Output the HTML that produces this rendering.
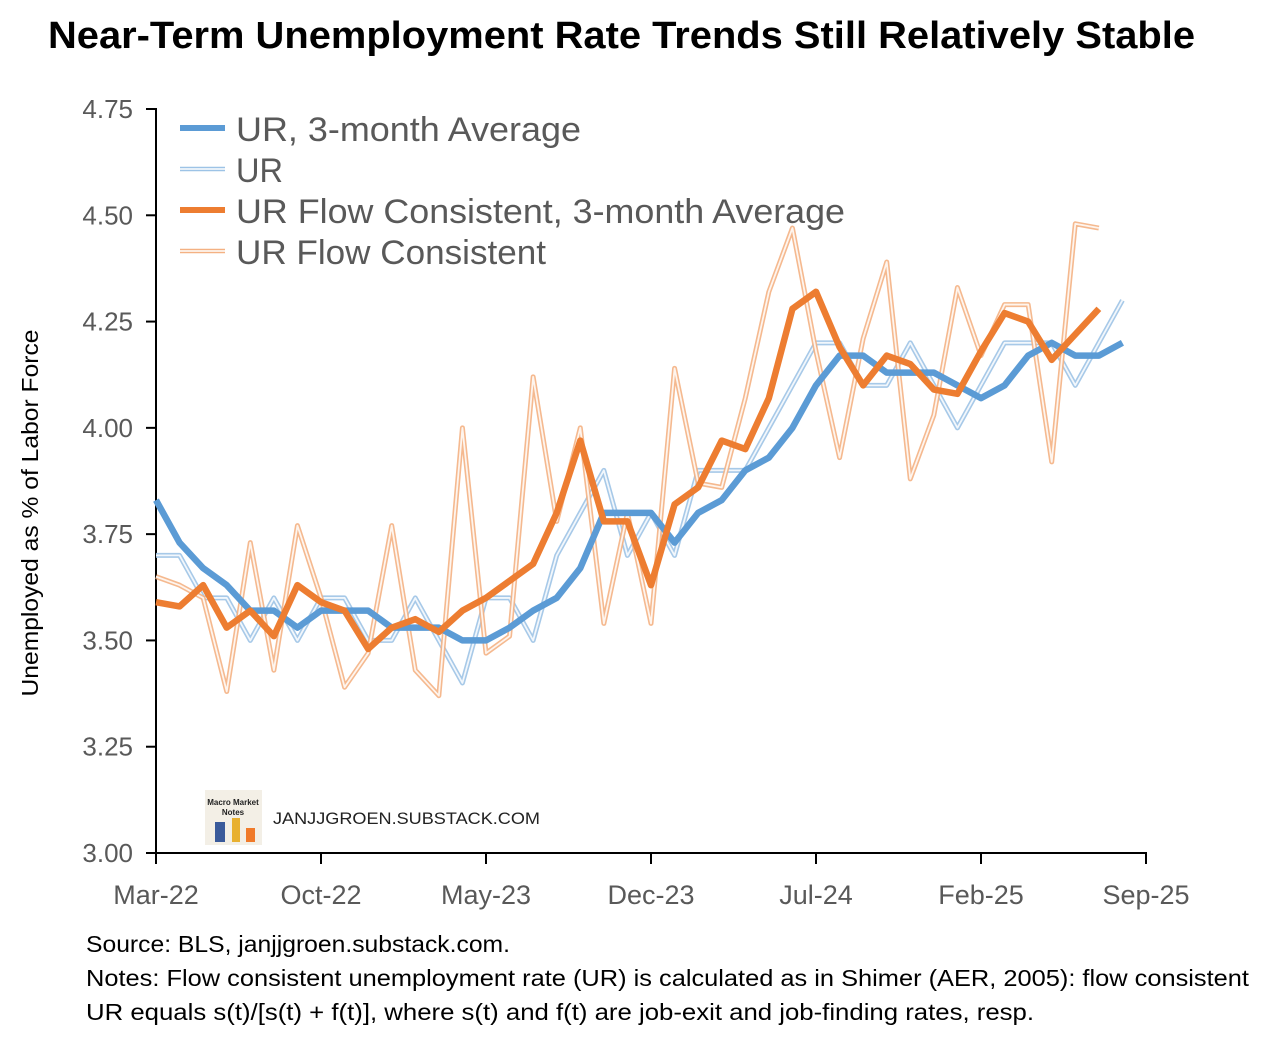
<!DOCTYPE html>
<html><head><meta charset="utf-8"><style>
body{margin:0;background:#fff;width:1271px;height:1046px;overflow:hidden;font-family:"Liberation Sans",sans-serif}
</style></head><body>
<svg width="1271" height="1046" xmlns="http://www.w3.org/2000/svg">
<text x="48" y="48" textLength="1147" lengthAdjust="spacingAndGlyphs" font-size="38" font-weight="bold" fill="#000">Near-Term Unemployment Rate Trends Still Relatively Stable</text>
<text transform="translate(38,513) rotate(-90)" text-anchor="middle" textLength="367" lengthAdjust="spacingAndGlyphs" font-size="23" fill="#000">Unemployed as % of Labor Force</text>
<g id="axes"></g>
<g id="series"></g>
<g font-size="34" fill="#595959">
<line x1="180" y1="128" x2="225" y2="128" stroke="#5B9BD5" stroke-width="6"/>
<text x="236" y="141" textLength="345" lengthAdjust="spacingAndGlyphs">UR, 3-month Average</text>
<line x1="180" y1="169" x2="225" y2="169" stroke="#9DC3E6" stroke-width="4.5"/>
<line x1="180" y1="169" x2="225" y2="169" stroke="#fff" stroke-width="1.5"/>
<text x="236" y="182" textLength="47" lengthAdjust="spacingAndGlyphs">UR</text>
<line x1="180" y1="210" x2="225" y2="210" stroke="#ED7D31" stroke-width="6"/>
<text x="236" y="223" textLength="609" lengthAdjust="spacingAndGlyphs">UR Flow Consistent, 3-month Average</text>
<line x1="180" y1="251" x2="225" y2="251" stroke="#F4B183" stroke-width="4.5"/>
<line x1="180" y1="251" x2="225" y2="251" stroke="#fff" stroke-width="1.5"/>
<text x="236" y="264" textLength="310" lengthAdjust="spacingAndGlyphs">UR Flow Consistent</text>
</g>
<g>
<rect x="205" y="790" width="57" height="55" fill="#f3efe6"/>
<rect x="215" y="822" width="10" height="20" fill="#3a5a9a"/><rect x="232" y="818" width="8" height="24" fill="#e8b030"/><rect x="246" y="828" width="9" height="14" fill="#f07a2a"/>
<text x="233" y="805" font-size="8" font-weight="bold" text-anchor="middle" fill="#222">Macro Market</text>
<text x="233" y="815" font-size="8" font-weight="bold" text-anchor="middle" fill="#222">Notes</text>
<text x="273" y="824" font-size="16.5" textLength="267" lengthAdjust="spacingAndGlyphs" fill="#222">JANJJGROEN.SUBSTACK.COM</text>
</g>
<g font-size="23" fill="#000">
<text x="86" y="952" textLength="424" lengthAdjust="spacingAndGlyphs">Source: BLS, janjjgroen.substack.com.</text>
<text x="86" y="986" textLength="1163" lengthAdjust="spacingAndGlyphs">Notes: Flow consistent unemployment rate (UR) is calculated as in Shimer (AER, 2005):  flow consistent</text>
<text x="86" y="1020" textLength="948" lengthAdjust="spacingAndGlyphs">UR equals s(t)/[s(t) + f(t)], where s(t) and f(t) are job-exit and job-finding rates, resp.</text>
</g>
</svg>
<script>
const urAvg=[3.83,3.73,3.67,3.63,3.57,3.57,3.53,3.57,3.57,3.57,3.53,3.53,3.53,3.50,3.50,3.53,3.57,3.60,3.67,3.80,3.80,3.80,3.73,3.80,3.83,3.90,3.93,4.00,4.10,4.17,4.17,4.13,4.13,4.13,4.10,4.07,4.10,4.17,4.20,4.17,4.17,4.20];
const ur=[3.7,3.7,3.6,3.6,3.5,3.6,3.5,3.6,3.6,3.5,3.5,3.6,3.5,3.4,3.6,3.6,3.5,3.7,3.8,3.9,3.7,3.8,3.7,3.9,3.9,3.9,4.0,4.1,4.2,4.2,4.1,4.1,4.2,4.1,4.0,4.1,4.2,4.2,4.2,4.1,4.2,4.3];
const flow=[3.65,3.63,3.60,3.38,3.73,3.43,3.77,3.60,3.39,3.47,3.77,3.43,3.37,4.00,3.47,3.51,4.12,3.78,4.00,3.54,3.80,3.54,4.14,3.87,3.86,4.07,4.32,4.47,4.18,3.93,4.21,4.39,3.88,4.03,4.33,4.17,4.29,4.29,3.92,4.48,4.47];
const flowAvg=[3.59,3.58,3.63,3.53,3.57,3.51,3.63,3.59,3.57,3.48,3.53,3.55,3.52,3.57,3.60,3.64,3.68,3.80,3.97,3.78,3.78,3.63,3.82,3.86,3.97,3.95,4.07,4.28,4.32,4.19,4.10,4.17,4.15,4.09,4.08,4.18,4.27,4.25,4.16,4.22,4.28];
const yTicks=[3.00,3.25,3.50,3.75,4.00,4.25,4.50,4.75];
const xTicks=["Mar-22","Oct-22","May-23","Dec-23","Jul-24","Feb-25","Sep-25"];
const NS="http://www.w3.org/2000/svg";
const X=i=>156+i*(990/42);
const Y=v=>853-(v-3)*(744/1.75);
function mk(t,a,p){const e=document.createElementNS(NS,t);for(const k in a)e.setAttribute(k,a[k]);p.appendChild(e);return e;}
const ax=document.getElementById('axes');
const yl=mk('line',{x1:156,y1:108,x2:156,y2:854,stroke:'#000','stroke-width':2},ax);


const xl=mk('line',{x1:155,y1:853,x2:1147,y2:853,stroke:'#000','stroke-width':2},ax);


yTicks.forEach(v=>{mk('line',{x1:146,x2:156,y1:Y(v),y2:Y(v),stroke:'#000','stroke-width':2},ax);
const t=mk('text',{x:133,y:Y(v)+9,'text-anchor':'end','font-size':26,fill:'#595959'},ax);t.textContent=v.toFixed(2);

});
xTicks.forEach((s,k)=>{const x=X(k*7);mk('line',{x1:x,x2:x,y1:853,y2:864,stroke:'#000','stroke-width':2},ax);
const t=mk('text',{x:x,y:904,'text-anchor':'middle','font-size':27,fill:'#595959'},ax);t.textContent=s;

});
const sg=document.getElementById('series');
function pts(a){return a.map((v,i)=>X(i)+','+Y(v)).join(' ');}
function hollow(a,c,name){const g=mk('g',{},sg);


mk('polyline',{points:pts(a),fill:'none',stroke:c,'stroke-width':5,'stroke-linejoin':'round','stroke-opacity':0.9},g);
mk('polyline',{points:pts(a),fill:'none',stroke:'#fff','stroke-width':1.8,'stroke-linejoin':'round','stroke-opacity':0.85},g);}
function solid(a,c,name){const p=mk('polyline',{points:pts(a),fill:'none',stroke:c,'stroke-width':6.5,'stroke-linejoin':'round'},sg);

}
hollow(ur,'#9DC3E6','ur-line');
hollow(flow,'#F4B183','flow-line');
solid(urAvg,'#5B9BD5','ur-avg-line');
solid(flowAvg,'#ED7D31','flow-avg-line');
</script>
</body></html>
